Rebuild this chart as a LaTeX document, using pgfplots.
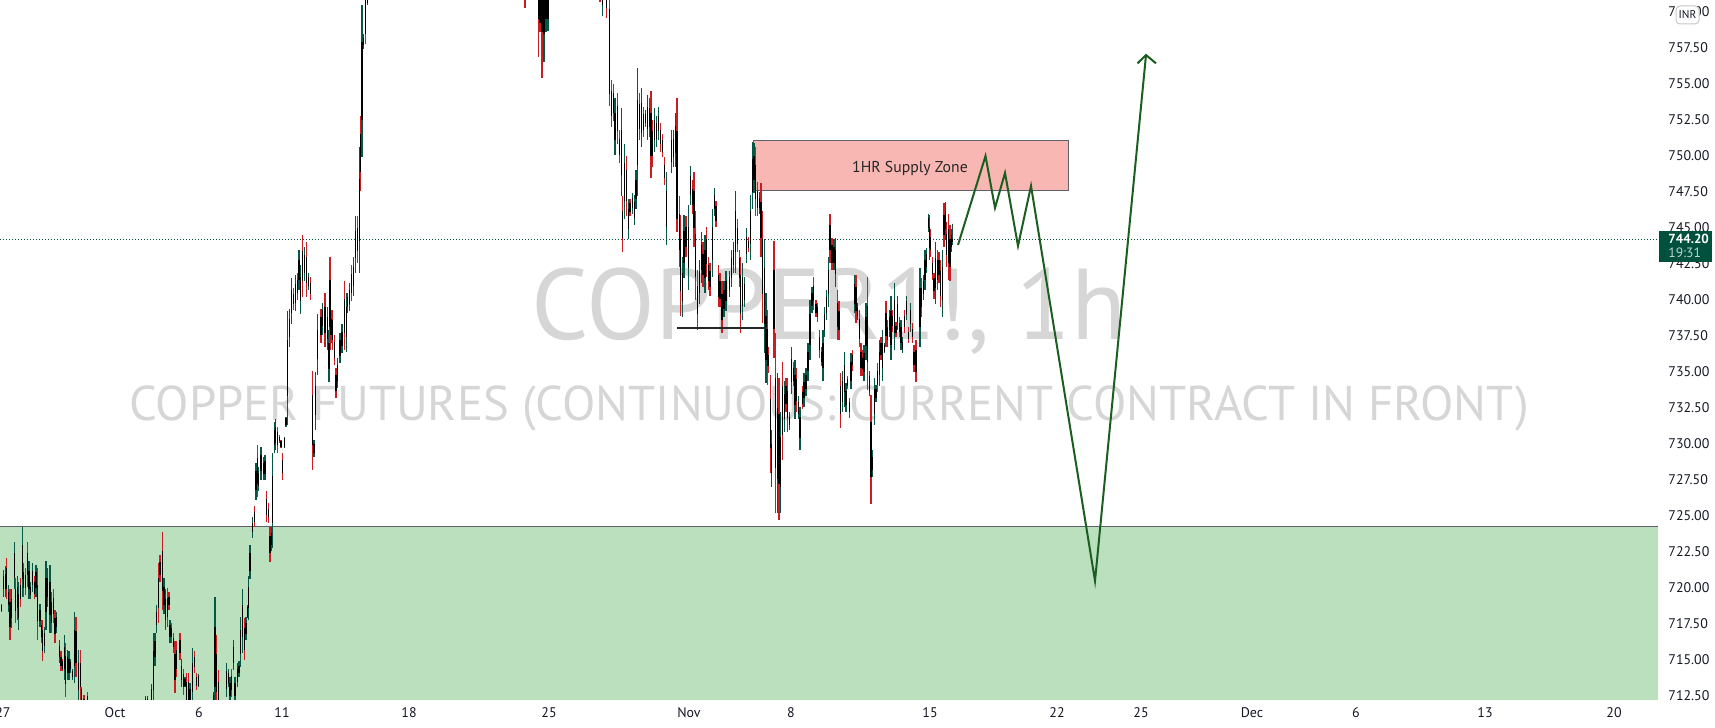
\documentclass[border=0pt]{standalone}
\usepackage{pgfplots}
\pgfplotsset{compat=1.18}
\usepackage{pgfplotstable}
\usepackage{fontspec}
\setmainfont{PT Sans}
\definecolor{cgreen}{RGB}{8,86,70}
\definecolor{cred}{RGB}{200,30,35}
\definecolor{zonegreen}{RGB}{187,224,190}
\definecolor{zonepink}{RGB}{249,183,180}
\definecolor{zoneedge}{RGB}{93,96,107}
\definecolor{wm}{RGB}{214,214,214}
\definecolor{arrowgreen}{RGB}{27,94,32}
\definecolor{pricebox}{RGB}{0,80,62}
\definecolor{labtext}{RGB}{19,23,34}

\pgfplotstableread{
x o h l c
3.3 719.9 721.25 719.4 720.8
5.7 719.9 721.5 719.4 721.0
8.3 718.8 720.2 718.3 719.7
11.7 717.9 719.9 717.2 719.2
14.3 720.7 723.2 719.9 722.4
17.3 718.6 720.8 717.8 720.1
18.3 717.9 720.4 717.1 719.6
22.3 720.6 724.2 719.4 723.0
29 719.9 721.9 719.2 721.2
30.7 719.5 720.4 719.2 720.1
32.3 720.2 721.7 719.7 721.2
36 720.0 721.6 719.4 721.1
40 717.7 718.9 717.3 718.5
44.3 716.0 717.3 715.5 716.9
46 718.3 721.9 717.1 720.7
47.7 719.4 721.4 718.7 720.7
50 718.1 721.6 716.9 720.4
56.7 717.3 718.3 716.9 718.0
59.3 715.2 716.4 714.8 716.0
64.3 714.4 716.7 713.6 715.9
67.3 714.1 715.7 713.6 715.2
69 714.1 715.6 713.6 715.1
70.7 714.35 715.1 714.1 714.85
72.7 713.8 714.4 713.6 714.2
74.3 714.6 718.3 713.4 717.1
78.3 712.9 715.7 712.0 714.8
145.7 710.5 712.5 710 712.3
147.7 710.5 712.5 710 712.3
151.7 711.5 713.3 711 713.0
153.3 712.9 716.9 711.5 715.6
155 715.2 716.9 714.6 716.3
156.7 717.4 718.8 716.9 718.3
164 718.8 720.7 718.2 720.1
165.7 717.8 719.9 717.1 719.2
170 716.6 717.8 716.2 717.4
181.7 713.6 715.1 713.1 714.6
185 713.2 713.8 713.1 713.7
190 712.2 713.4 711.8 713.0
192.7 712.8 715.8 711.8 714.8
198.3 713.2 714.0 713.1 713.9
213.3 711 712.8 710 712.6
215 713.1 719.4 711.0 717.3
226.7 713.0 714.8 712.4 714.2
228.3 713.4 714.4 713.1 714.1
230 712.5 713.8 712.0 713.4
233.3 714.8 716.4 714.3 715.9
235 712.5 713.8 712.0 713.4
237.3 713.5 714.8 713.1 714.4
239 714.1 714.9 713.8 714.6
240.7 715.4 718.0 714.5 717.1
242.3 716.6 719.9 715.5 718.8
246 716.8 718.0 716.4 717.6
247.3 718.0 718.8 717.9 718.7
248.7 718.6 720.8 717.8 720.1
250 721.2 723.0 720.6 722.4
252.7 723.9 724.9 723.5 724.5
256 726.8 728.7 726.1 728.1
258.7 727.1 728.4 726.7 728.0
261 728.1 729.8 727.5 729.2
263.3 727.9 729.1 727.5 728.7
265 727.9 729.2 727.5 728.8
271.7 723.0 724.2 722.6 723.8
272.7 724.5 729.4 722.8 727.8
274.3 729.9 731.5 729.4 731.0
275.7 730.1 731.7 729.6 731.2
284.3 729.8 730.5 729.7 730.4
286 731.3 731.9 731.2 731.8
287.3 733.3 739.2 731.3 737.2
289.3 737.4 739.4 736.7 738.7
291.3 739.1 741.5 738.3 740.7
295.3 739.8 741.7 739.2 741.1
299 741.4 743.5 740.7 742.8
300.3 739.9 742.4 739.0 741.6
304.3 741.9 743.7 741.3 743.1
308.3 741.0 741.9 740.7 741.6
314 729.4 730.3 729.1 730.0
315.7 732.0 735.0 731.0 734.0
317.3 735.9 739.0 734.8 737.9
322.7 738.2 739.8 737.6 739.3
327.3 737.3 739.5 736.5 738.8
329 735.2 737.9 734.3 737.0
337.7 734.4 736.0 733.9 735.5
340 736.1 737.7 735.6 737.2
342 736.8 738.3 736.3 737.8
346.7 737.4 740.5 736.4 739.5
347.7 739.5 740.5 739.1 740.2
349.3 739.7 741.2 739.2 740.7
353.3 741.0 743.0 740.3 742.3
355.3 742.9 745.8 741.9 744.8
359.3 744.1 750.6 741.9 748.4
362 752.5 760.5 749.9 757.9
363.7 757.7 758.5 757.4 758.2
367.7 760.6 763 760.5 762.5
544 758.5 763 756.5 762
546 759.5 763 758.6 762
548 759.5 763 758.7 762
602.3 760.5 764 759.7 763
615 751.1 754.0 750.1 753.0
621.7 748.7 753.3 747.2 751.8
624.3 746.9 750.8 745.6 749.5
628.3 744.9 747.0 744.2 746.3
632.3 746.4 747.4 746.0 747.1
634.3 745.7 747.3 745.2 746.8
636 747.0 749.0 746.3 748.3
637.3 749.4 756.1 747.2 753.9
641.3 751.6 754.7 750.6 753.7
645.7 752.3 753.2 752.0 752.9
647.3 751.9 754.2 751.1 753.4
654.3 751.1 753.3 750.3 752.5
656.7 751.2 752.8 750.6 752.3
658.3 751.7 753.4 751.1 752.8
666.7 745.1 748.9 743.8 747.6
671.7 749.6 751.8 748.8 751.1
673.3 749.9 751.8 749.2 751.2
675.3 750.2 753.0 749.2 752.1
682.3 739.9 743.0 738.8 741.9
684 742.6 745.9 741.5 744.8
688.3 742.2 746.6 740.7 745.1
690.3 747.3 749.3 746.6 748.6
699.3 740.5 742.8 739.7 742.0
701.3 742.1 744.7 741.2 743.8
705 741.5 744.5 740.5 743.5
712.3 742.8 746.3 741.6 745.1
714.3 746.3 747.8 745.8 747.3
724 739.4 741.3 738.8 740.7
726 739.9 742.0 739.2 741.3
729.3 740.7 742.0 740.2 741.6
731.7 741.5 743.5 740.9 742.9
733.3 742.4 744.0 741.9 743.5
735.3 743.3 747.6 741.9 746.2
742.7 739.6 742.6 738.6 741.6
744.7 740.0 741.6 739.5 741.1
746.7 743.2 745.0 742.6 744.4
750.7 743.9 747.3 742.8 746.2
752.7 747.5 751.0 746.3 749.8
754 748.3 750.9 747.4 750.0
759.3 746.4 747.5 746.0 747.1
764.3 738.3 744.2 736.3 742.2
766 735.8 740.5 734.2 738.9
771.7 728.0 731.0 727.0 730.0
777.3 727.6 734.9 725.2 732.5
780.7 727.0 732.2 725.2 730.5
784.3 731.7 734.4 730.8 733.5
789.3 731.3 732.2 731.0 731.9
791.3 734.3 736.7 733.5 735.9
795 732.7 735.8 731.7 734.8
798.7 732.1 733.3 731.7 732.9
800 730.4 732.6 729.6 731.9
804 733.2 734.9 732.6 734.3
806 733.8 735.3 733.3 734.8
808 735.1 737.0 734.4 736.4
810 736.9 740.0 735.8 739.0
812 739.6 740.9 739.1 740.5
823 735.3 737.9 734.4 737.0
824.7 737.9 739.5 737.4 739.0
826.7 739.1 740.7 738.6 740.2
828.3 740.4 743.0 739.5 742.1
834 742.6 744.2 742.1 743.7
835.7 741.8 744.3 740.9 743.5
842.7 732.9 735.1 732.2 734.4
844.3 733.6 736.4 732.6 735.5
846 732.7 734.2 732.2 733.7
851 734.4 736.3 733.8 735.7
854.3 739.7 741.7 739.1 741.1
857.7 738.9 739.8 738.6 739.5
864 735.0 736.9 734.4 736.3
866 736.8 739.8 735.8 738.8
869.3 733.7 735.1 733.3 734.7
872.3 728.2 729.6 727.7 729.1
874.3 732.1 734.6 731.3 733.8
876 733.2 734.1 732.9 733.8
879.3 734.8 737.2 734.0 736.4
882.7 735.3 737.9 734.4 737.0
884.3 736.4 737.0 736.3 736.9
889.3 737.9 739.3 737.4 738.8
891 736.9 740.3 735.8 739.2
894.3 737.7 741.2 736.5 740.0
897.7 738.5 740.3 737.9 739.7
901 737.0 738.6 736.5 738.1
902.7 736.6 737.4 736.3 737.1
906.7 739.0 740.3 738.6 739.9
910.7 738.3 739.8 737.8 739.3
920 738.1 742.2 736.7 740.8
923.3 740.4 741.7 740.0 741.3
925 741.4 743.5 740.7 742.8
926.7 742.3 743.6 741.9 743.2
928.3 745.0 746.0 744.7 745.7
929.3 743.6 745.9 742.8 745.1
935.7 740.8 744.0 739.7 742.9
942.3 740.0 743.5 738.8 742.3
945.7 744.9 746.8 744.2 746.2
951.3 743.7 744.9 743.3 744.5
952.7 744.0 745.3 743.8 744.2
}\upc

\pgfplotstableread{
x o h l c
1.7 718.8 718.9 718.3 718.4
6.7 721.4 722.1 719.2 719.9
10 719.0 719.9 716.4 717.3
15.7 719.9 720.7 717.6 718.4
20.7 720.2 720.7 718.7 719.2
23.3 721.1 721.7 719.4 720.0
25.3 720.9 721.4 719.5 720.0
27.3 722.4 723.2 720.1 720.9
34.3 720.4 720.8 719.2 719.6
37.7 720.2 721.4 716.4 717.7
41.7 717.4 717.8 716.2 716.6
42.7 717.1 717.8 714.9 715.6
51.7 719.0 719.7 716.9 717.6
53.3 719.3 719.9 717.6 718.2
55 717.9 718.5 716.2 716.8
61 715.2 715.6 714.2 714.6
62.7 714.9 715.1 714.2 714.4
65.7 715.3 716.2 712.4 713.3
76 717.0 718.0 713.8 714.8
80.7 714.8 715.7 712.2 713.1
81.7 713.0 713.1 711.5 712.0
84 712.3 712.6 710 710.5
87.7 712.5 712.8 710 710.5
158.3 720.7 721.7 717.6 718.6
160 721.8 722.3 720.4 720.9
162.3 722.6 723.9 718.5 719.8
167.3 719.3 720.0 717.3 718.0
169 719.4 719.7 718.5 718.8
171.7 717.2 717.6 716.2 716.6
173.3 716.5 716.9 715.5 715.9
175 715.4 716.3 712.7 713.6
176.7 715.7 716.3 713.8 714.4
180 716.4 716.9 715.0 715.5
183.3 714.0 714.4 712.6 713.1
186.7 713.5 714.1 711.5 712.2
188.3 713.5 714.1 711.5 712.2
194.3 715.2 715.6 714.1 714.5
196.7 713.8 714.1 712.9 713.2
216.7 715.4 716.7 711.5 712.8
218.3 713.5 714.3 711.0 711.8
231.7 713.9 714.4 712.4 712.9
244.3 717.2 717.9 715.0 715.7
254.3 725.3 725.7 724.2 724.6
257.3 729.0 729.9 726.3 727.2
266.7 726.2 726.7 724.6 725.1
268.3 725.5 725.9 724.5 724.9
270 723.6 724.2 721.8 722.4
277.7 730.8 731.2 729.4 729.9
279.3 730.5 730.6 730.1 730.2
281 730.2 730.3 729.7 729.8
282.7 728.9 729.4 727.5 728.0
293.3 740.4 740.8 739.3 739.7
297.3 741.4 741.9 740.0 740.5
302.3 743.4 744.5 740.2 741.3
306.3 743.0 744.0 740.2 741.2
310.3 741.2 741.6 740.0 740.4
312.3 733.4 735.1 728.2 729.9
321 738.8 739.4 737.0 737.6
325 739.5 740.5 736.7 737.7
330 741.4 743.0 736.5 738.1
331 738.7 739.3 737.0 737.6
332.7 738.6 739.3 736.5 737.2
334.3 737.1 737.6 735.5 736.0
336 734.8 735.3 733.2 733.7
344.3 740.1 741.3 736.5 737.7
351.3 741.8 742.4 739.9 740.5
357.3 745.0 745.8 742.6 743.4
360.3 751.5 752.8 747.6 748.9
365.7 761 762 757.8 758.5
525 763 765 760.3 760.8
538.3 762 765 756.9 759.5
540 762 764 758.6 759.2
542 761 764 755.4 758.6
600 763 764 760.7 761
606.7 762 764 759.6 760.3
609.3 760.2 761 753.5 754.3
611.3 754.5 755.3 752.0 752.8
613.3 754.4 755.0 752.4 753.0
617.3 753.5 754.4 750.8 751.7
619.3 751.2 751.8 749.5 750.1
622.7 746.2 747.2 743.3 744.3
626.7 749.0 750.0 745.8 746.9
630 746.7 747.0 745.8 746.1
639.3 753.6 754.4 751.1 751.9
643.3 752.9 753.4 751.3 751.8
649.3 753.3 754.0 751.3 752.0
651 753.0 754.5 748.5 750.0
652.7 751.7 752.5 749.2 750.0
660.7 751.8 752.3 750.3 750.8
662.7 751.1 751.5 749.9 750.3
664.3 749.4 749.9 748.0 748.5
677 751.7 754.0 744.7 745.6
679.3 746.0 747.2 742.3 743.5
680.7 744.2 745.9 738.9 740.6
686 745.1 745.8 743.0 743.7
692.3 747.7 748.3 746.0 746.6
694 747.6 748.9 743.7 745.0
695.7 744.6 746.2 740.0 741.6
697.7 741.0 742.1 737.9 739.0
703 743.2 744.0 740.9 741.7
706.7 744.2 745.1 741.6 742.5
708.3 742.4 743.0 740.7 741.3
710 742.0 742.6 740.3 740.9
716 746.5 746.9 745.1 745.5
718.3 741.7 742.4 739.5 740.2
720 741.3 741.9 739.5 740.1
722 740.4 741.3 737.7 738.6
737.3 745.0 745.6 743.3 743.9
739.3 742.9 743.5 740.9 741.5
740.7 741.7 743.0 737.7 739.0
748.7 744.1 744.4 743.3 743.6
755.3 749.4 750.6 745.8 747.0
757.3 747.6 748.2 745.8 746.4
761 746.8 748.1 743.0 744.3
762.7 744.2 746.2 738.4 740.4
767.3 738.0 739.3 734.1 735.4
768.3 736.2 736.7 734.9 735.4
770.3 733.1 734.8 728.0 729.7
774 742.1 744.1 736.0 738.0
775.7 734.6 737.7 725.2 728.3
779 732.1 734.6 724.7 727.2
782.7 734.0 735.7 728.9 730.6
786 734.0 734.6 732.2 732.8
787.7 733.7 734.6 730.8 731.8
793.3 735.3 735.7 734.0 734.4
796.7 734.5 735.3 732.2 733.0
802.3 733.6 734.0 732.4 732.8
813.7 741.0 741.6 739.3 739.9
816 739.7 740.0 738.8 739.1
817.7 739.5 739.8 738.5 738.8
819.7 737.4 737.9 736.0 736.5
821.3 736.4 736.7 735.4 735.7
830 745.2 746.0 742.6 743.5
832 743.8 744.3 742.1 742.6
837.3 739.8 740.7 737.2 738.1
839 739.2 739.9 737.2 737.9
840.7 734.0 734.9 731.1 732.1
847.3 734.5 734.7 733.8 734.0
849.3 732.9 733.2 731.8 732.2
852.7 736.2 736.5 735.1 735.5
856 740.9 741.7 738.4 739.2
859.3 738.7 739.3 736.7 737.3
861 736.4 737.0 734.7 735.3
862.7 736.0 736.5 734.7 735.2
867.7 739.6 741.6 733.75 735.7
871 731.5 733.4 725.8 727.7
877.7 735.1 735.6 733.6 734.1
881 737.0 737.4 735.8 736.2
886 739.1 739.9 736.7 737.5
887.7 738.1 738.6 736.7 737.2
892.7 738.9 739.3 737.8 738.2
896 738.2 738.5 737.4 737.7
899.3 738.4 738.8 737.4 737.8
904.7 738.9 739.3 737.7 738.1
908.7 737.8 738.1 737.0 737.3
912.3 738.0 738.4 737.0 737.4
914 736.4 736.9 735.0 735.5
916 736.5 737.2 734.3 735.0
921.3 740.8 741.5 738.8 739.5
930.7 744.4 744.9 743.0 743.5
932.3 742.6 743.0 741.4 741.8
934 741.5 741.9 740.1 740.6
937.3 742.8 743.5 740.7 741.4
939 742.8 743.3 741.2 741.7
940.7 742.0 742.8 739.5 740.3
944 745.9 746.7 743.7 744.5
946.7 744.6 745.4 742.3 743.1
948.3 744.9 746.0 741.4 742.6
950 744.2 745.2 741.3 742.3
}\dnc

\begin{document}
\begin{tikzpicture}
\useasboundingbox (0bp,0bp) rectangle (857.5bp,364bp);
\begin{axis}[
  at={(0bp,364bp)}, anchor=north west,
  scale only axis, width=829bp, height=350bp,
  xmin=0, xmax=1658, ymin=712.22, ymax=760.83,
  axis line style={draw=none},
  major tick length=0pt,
  scaled y ticks=false,
  xtick={3,115,199,282,409,549,689,791,930,1057,1141,1252,1356,1485,1614},
  xticklabels={27,Oct,6,11,18,25,Nov,8,15,22,25,Dec,6,13,20},
  xticklabel style={font=\fontsize{7}{8}\selectfont, text=labtext, anchor=base, inner sep=0pt, yshift=-9bp},
  ytick={712.5,715,717.5,720,722.5,725,727.5,730,732.5,735,737.5,740,742.5,745,747.5,750,752.5,755,757.5,760},
  yticklabel pos=right,
  yticklabel style={font=\fontsize{7}{8}\selectfont, text=labtext, anchor=west, inner sep=0pt, xshift=5bp,
    /pgf/number format/.cd, fixed, fixed zerofill, precision=2, assume math mode=true},
  candle/.style={draw=none, mark=none, forget plot,
    error bars/.cd, y dir=both, y explicit, error mark=none,
    error bar style={draw=#1, line width=0.7bp, solid}},
]
% watermark
\node[font=\fontsize{50.5}{51}\selectfont, text=wm, anchor=base, inner sep=0pt] at (axis cs:829,737.22) {COPPER1!, 1h};
\node[font=\fontsize{24.5}{25}\selectfont, text=wm, anchor=base, inner sep=0pt] at (axis cs:829,731.6) {COPPER FUTURES (CONTINUOUS: CURRENT CONTRACT IN FRONT)};
% zones
\addplot[fill=zonegreen, draw=none, forget plot] coordinates {(-20,700) (1700,700) (1700,724.24) (-20,724.24)} -- cycle;
\addplot[zoneedge, line width=0.5bp, forget plot] coordinates {(0,724.24) (1658,724.24)};
\addplot[fill=zonepink, draw=zoneedge, line width=0.5bp, forget plot] coordinates {(753,751.04) (1068,751.04) (1068,747.57) (753,747.57)} -- cycle;
\node[font=\fontsize{7.9}{8}\selectfont, text=black!85, anchor=base, inner sep=0pt] at (axis cs:910,748.84) {1HR Supply Zone};
% last price line
\addplot[pricebox, line width=0.6bp, dash pattern=on 0.6bp off 0.9bp, forget plot] coordinates {(0,744.2) (1658,744.2)};
% candles: wicks
\addplot[candle=cgreen] table[x=x, y expr={0.5*(\thisrow{h}+\thisrow{l})}, y error expr={0.5*(\thisrow{h}-\thisrow{l})}] {\upc};
\addplot[candle=cred] table[x=x, y expr={0.5*(\thisrow{h}+\thisrow{l})}, y error expr={0.5*(\thisrow{h}-\thisrow{l})}] {\dnc};
% candles: bodies
\addplot[candle=black] table[x=x, y expr={0.5*(\thisrow{o}+\thisrow{c})}, y error expr={0.5*(\thisrow{c}-\thisrow{o})}] {\upc};
\addplot[candle=black] table[x=x, y expr={0.5*(\thisrow{o}+\thisrow{c})}, y error expr={0.5*(\thisrow{o}-\thisrow{c})}] {\dnc};
% drawings
\addplot[black!85, line width=1.1bp, forget plot] coordinates {(677,738.06) (767,738.06)};
\addplot[arrowgreen, line width=1bp, line join=miter, forget plot] coordinates {(958,743.82) (985.5,750.0) (995,746.39) (1005,748.82) (1018,743.75) (1031,747.92) (1095,720.49) (1146,757.01)};
\addplot[arrowgreen, line width=1bp, forget plot] coordinates {(1137.5,756.43) (1146,757.01) (1156,756.43)};
\end{axis}
% last price box
\fill[pricebox] (829.5bp,233bp) rectangle (856bp,248.5bp);
\node[anchor=west, inner sep=0pt, font=\fontsize{6.6}{8}\selectfont\bfseries, text=white] at (834bp,244.6bp) {744.20};
\node[anchor=west, inner sep=0pt, font=\fontsize{6.8}{8}\selectfont, text=white!75!pricebox] at (834bp,237.4bp) {19:31};
% currency box
\draw[rounded corners=2bp, draw=black!22, fill=white, line width=0.5bp] (838bp,352bp) rectangle (849.5bp,361bp);
\node[font=\fontsize{5.7}{6}\selectfont, text=labtext, inner sep=0pt] at (843.75bp,356.5bp) {INR};
\end{tikzpicture}
\end{document}
